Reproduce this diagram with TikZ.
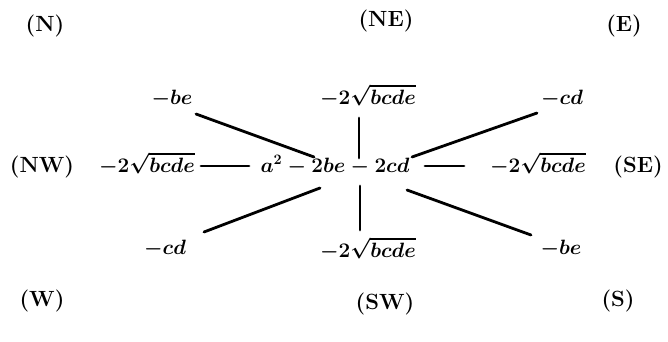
\documentclass[tikz,border=0pt]{standalone}
\usepackage{amsmath}
\begin{document}
\begin{tikzpicture}[x=1pt,y=-1pt,
  lab/.style={font=\fontsize{22}{26}\selectfont\bfseries, inner sep=0pt, anchor=base},
  term/.style={font=\fontsize{20.74}{25}\selectfont\boldmath, inner sep=0pt, anchor=base},
  conn/.style={line width=2.8pt, line cap=round}]
\useasboundingbox (0,0) rectangle (668,341);
% direction labels
\node[lab] (N)  at (45,31)  {(N)};
\node[lab] (NE) at (386,26) {(NE)};
\node[lab] (E)  at (624,31) {(E)};
\node[lab] (NW) at (42,172) {(NW)};
\node[lab] (SE) at (638,172) {(SE)};
\node[lab] (W)  at (42,306) {(W)};
\node[lab] (SW) at (385,309) {(SW)};
\node[lab] (S)  at (618,306) {(S)};
% terms
\node[term] (tl) at (172,104) {$-be$};
\node[term] (tc) at (368,104) {$-2\sqrt{bcde}$};
\node[term] (tr) at (562,104) {$-cd$};
\node[term] (ml) at (147,172) {$-2\sqrt{bcde}$};
\node[term] (ctr) at (335,172) {$a^2-2be-2cd$};
\node[term] (mr) at (538,172) {$-2\sqrt{bcde}$};
\node[term] (bl) at (165,254) {$-cd$};
\node[term] (bc) at (368,257) {$-2\sqrt{bcde}$};
\node[term] (br) at (561,254) {$-be$};
% connector end points
\coordinate (tl1) at (196,114);  \coordinate (tl2) at (314,157);
\coordinate (tc1) at (359,118);  \coordinate (tc2) at (359,158);
\coordinate (tr1) at (537,113);  \coordinate (tr2) at (412,157);
\coordinate (ml1) at (201,166);  \coordinate (ml2) at (249,166);
\coordinate (mr1) at (425,166);  \coordinate (mr2) at (464,166);
\coordinate (bl1) at (204,232);  \coordinate (bl2) at (320,188);
\coordinate (bc1) at (360,230);  \coordinate (bc2) at (360,186);
\coordinate (br1) at (531,235);  \coordinate (br2) at (407,190);
\draw[conn] (tl1) -- (tl2);
\draw[conn] (tc1) -- (tc2);
\draw[conn] (tr1) -- (tr2);
\draw[conn] (ml1) -- (ml2);
\draw[conn] (mr1) -- (mr2);
\draw[conn] (bl1) -- (bl2);
\draw[conn] (bc1) -- (bc2);
\draw[conn] (br1) -- (br2);
\end{tikzpicture}
\end{document}
